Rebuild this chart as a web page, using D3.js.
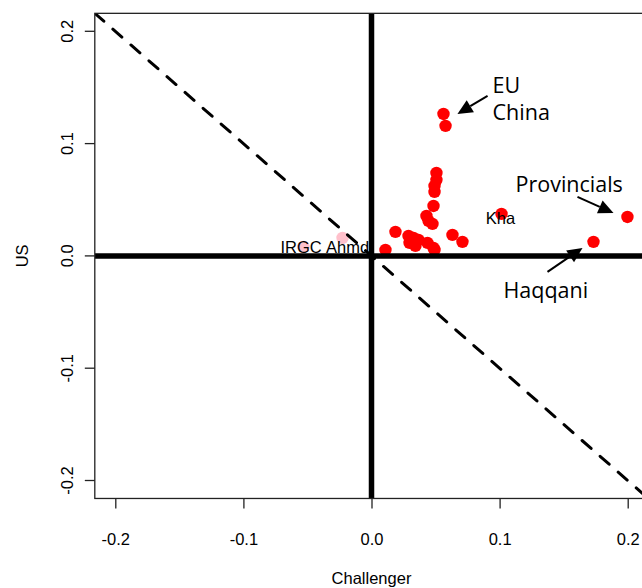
<!DOCTYPE html>
<html>
<head>
<meta charset="utf-8">
<script src="https://cdn.jsdelivr.net/npm/d3@7"></script>
<style>
  html, body { margin: 0; padding: 0; background: #fff; }
  svg { display: block; }
</style>
</head>
<body>
<svg id="chart" width="642" height="588"></svg>
<script>
// ---- data ----
const redX = [0.0562, 0.0578, 0.0507, 0.0507, 0.0492, 0.0492, 0.0484, 0.0429, 0.0476, 0.0445,
              0.0187, 0.0289, 0.0328, 0.0367, 0.0297, 0.0343, 0.0437, 0.0484, 0.0632, 0.0710,
              0.0109, 0.0492, 0.1015, 0.1998, 0.1733];
const redY = [0.1264, 0.1158, 0.0739, 0.0677, 0.0623, 0.0570, 0.0445, 0.0356, 0.0285, 0.0312,
              0.0214, 0.0178, 0.0160, 0.0142, 0.0116, 0.0089, 0.0116, 0.0071, 0.0187, 0.0125,
              0.0053, 0.0053, 0.0374, 0.0347, 0.0125];
const pinkX = [-0.0531, -0.0226];
const pinkY = [0.0080, 0.0160];

const labelNames = ["IRGC", "Ahmd", "Kha"];
const labelX = [-0.0550, -0.0187, 0.1007];
const labelY = [0.0075, 0.0080, 0.0338];

const annoText = ["EU", "China", "Provincials", "Haqqani"];
const annoX = [0.0945, 0.0945, 0.1124, 0.1030];
const annoY = [0.1451, 0.1211, 0.0570, -0.0374];

const arrowX1 = [0.0906, 0.1608, 0.1374];
const arrowY1 = [0.1425, 0.0525, -0.0142];
const arrowX2 = [0.0671, 0.1889, 0.1647];
const arrowY2 = [0.1264, 0.0383, 0.0071];

const xTicks = [-0.2, -0.1, 0.0, 0.1, 0.2];
const yTicks = [-0.2, -0.1, 0.0, 0.1, 0.2];
const xLimits = [-0.216, 0.216];
const yLimits = [-0.216, 0.216];

// ---- layout ----
const svg = d3.select("#chart");
const x = d3.scaleLinear().domain([-0.2, 0.2]).range([115.3, 627.7]);
const y = d3.scaleLinear().domain([-0.2, 0.2]).range([480.5, 31.3]);
const pLeft = x(xLimits[0]), pRight = x(xLimits[1]);
const pTop = y(yLimits[1]), pBottom = y(yLimits[0]);
const fmt = d => d3.format(".1f")(d).replace("\u2212", "-");

svg.append("rect").attr("width", 642).attr("height", 588).attr("fill", "#fff");

svg.append("defs").append("clipPath").attr("id", "plotclip")
  .append("rect").attr("x", pLeft).attr("y", pTop)
  .attr("width", pRight - pLeft).attr("height", pBottom - pTop);

const plot = svg.append("g").attr("clip-path", "url(#plotclip)");

// pink points
plot.selectAll("circle.pink").data(pinkX).enter().append("circle")
  .attr("class", "pink")
  .attr("cx", d => x(d)).attr("cy", (d, i) => y(pinkY[i]))
  .attr("r", 6.2).attr("fill", "#FFC0CB");

// red points
plot.selectAll("circle.red").data(redX).enter().append("circle")
  .attr("class", "red")
  .attr("cx", d => x(d)).attr("cy", (d, i) => y(redY[i]))
  .attr("r", 6.2).attr("fill", "#FF0000");

// point labels
plot.selectAll("text.lbl").data(labelNames).enter().append("text")
  .attr("class", "lbl")
  .attr("x", (d, i) => x(labelX[i])).attr("y", (d, i) => y(labelY[i]))
  .attr("dy", "0.36em")
  .attr("text-anchor", "middle")
  .attr("font-family", "Liberation Sans, Arial, sans-serif")
  .attr("font-size", 16.5).attr("fill", "#000")
  .text(d => d);

// diagonal dashed line y = -x
plot.append("line")
  .attr("x1", x(xLimits[0])).attr("y1", y(-xLimits[0]))
  .attr("x2", x(xLimits[1])).attr("y2", y(-xLimits[1]))
  .attr("stroke", "#000").attr("stroke-width", 3)
  .attr("stroke-dasharray", "12,12").attr("stroke-linecap", "round");

// thick axes lines at 0
plot.append("line")
  .attr("x1", pLeft).attr("x2", pRight).attr("y1", y(0)).attr("y2", y(0))
  .attr("stroke", "#000").attr("stroke-width", 5.5);
plot.append("line")
  .attr("x1", x(0)).attr("x2", x(0)).attr("y1", pTop).attr("y2", pBottom)
  .attr("stroke", "#000").attr("stroke-width", 5.5);

// annotations
svg.selectAll("text.anno").data(annoText).enter().append("text")
  .attr("class", "anno")
  .attr("x", (d, i) => x(annoX[i])).attr("y", (d, i) => y(annoY[i]))
  .attr("font-family", "Open Sans, sans-serif")
  .attr("font-size", 21.5).attr("fill", "#000")
  .text(d => d);

// arrows
const arrows = svg.append("g");
arrowX1.forEach((ax, i) => {
  const x1 = x(ax), y1 = y(arrowY1[i]), x2 = x(arrowX2[i]), y2 = y(arrowY2[i]);
  const ang = Math.atan2(y2 - y1, x2 - x1);
  const L = 15, W = 7;
  const bx = x2 - L * Math.cos(ang), by = y2 - L * Math.sin(ang);
  arrows.append("line")
    .attr("x1", x1).attr("y1", y1).attr("x2", bx).attr("y2", by)
    .attr("stroke", "#000").attr("stroke-width", 2);
  const px = -Math.sin(ang), py = Math.cos(ang);
  arrows.append("path")
    .attr("d", `M${x2},${y2}L${bx + W * px},${by + W * py}L${bx - W * px},${by - W * py}Z`)
    .attr("fill", "#000");
});

// frame
svg.append("rect")
  .attr("x", pLeft).attr("y", pTop).attr("width", pRight - pLeft).attr("height", pBottom - pTop)
  .attr("fill", "none").attr("stroke", "#222").attr("stroke-width", 1.3);

// axes
const xAxis = d3.axisBottom(x).tickValues(xTicks).tickFormat(fmt)
  .tickSizeInner(10).tickSizeOuter(0);
const gx = svg.append("g").attr("transform", `translate(0,${pBottom})`).call(xAxis);
gx.select(".domain").remove();
gx.selectAll("line").attr("stroke", "#222").attr("stroke-width", 1.3);
gx.selectAll("text").attr("font-family", "Liberation Sans, Arial, sans-serif")
  .attr("font-size", 16.5).attr("fill", "#000").attr("dy", 0).attr("y", 47);

const yAxis = d3.axisLeft(y).tickValues(yTicks).tickFormat(fmt)
  .tickSizeInner(10).tickSizeOuter(0);
const gy = svg.append("g").attr("transform", `translate(${pLeft},0)`).call(yAxis);
gy.select(".domain").remove();
gy.selectAll("line").attr("stroke", "#222").attr("stroke-width", 1.3);
gy.selectAll(".tick").attr("transform", null);
gy.selectAll(".tick line").attr("y1", d => y(d)).attr("y2", d => y(d));
gy.selectAll(".tick text")
  .attr("font-family", "Liberation Sans, Arial, sans-serif")
  .attr("font-size", 16.5).attr("fill", "#000")
  .attr("x", 0).attr("y", 0).attr("dy", 0)
  .attr("text-anchor", "middle")
  .attr("transform", d => `translate(-22,${y(d)}) rotate(-90)`);

// axis titles
svg.append("text").attr("x", x(0)).attr("y", 584)
  .attr("text-anchor", "middle")
  .attr("font-family", "Liberation Sans, Arial, sans-serif")
  .attr("font-size", 16.5).attr("fill", "#000").text("Challenger");
svg.append("text")
  .attr("transform", `translate(28,${y(0)}) rotate(-90)`)
  .attr("text-anchor", "middle")
  .attr("font-family", "Liberation Sans, Arial, sans-serif")
  .attr("font-size", 16.5).attr("fill", "#000").text("US");
</script>
</body>
</html>
